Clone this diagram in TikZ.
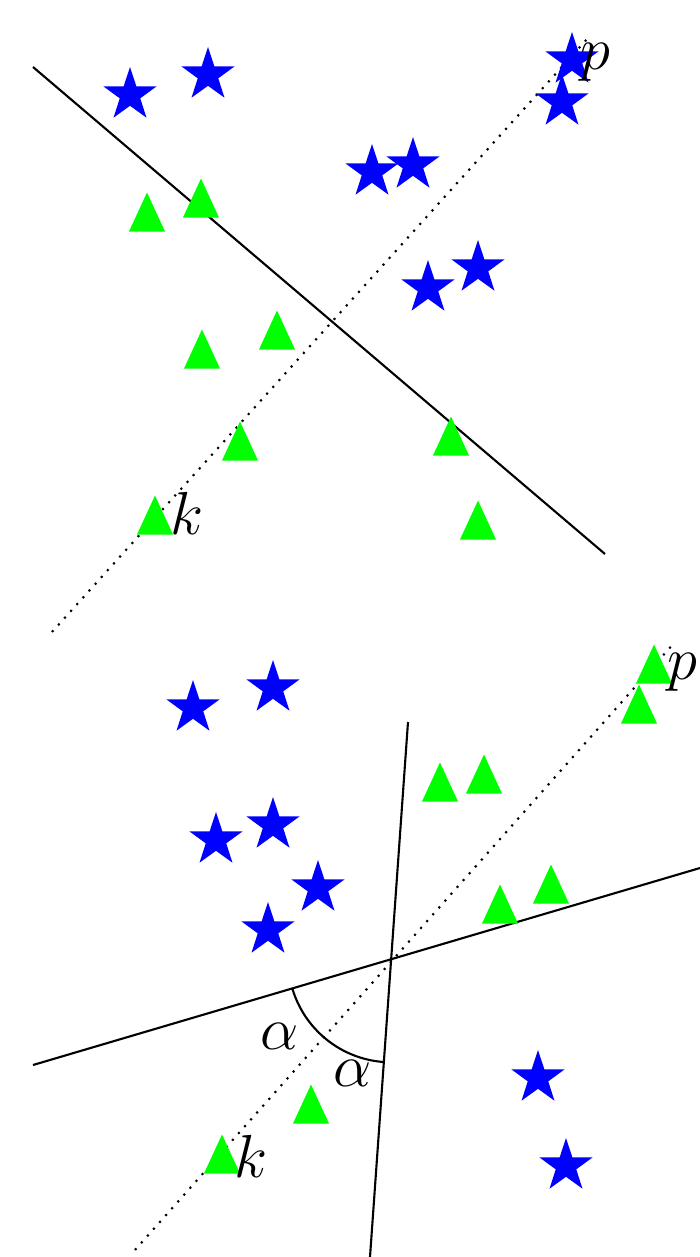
\documentclass[tikz,border=0pt]{standalone}
\usetikzlibrary{shapes.geometric, angles}

\begin{document}
\begin{tikzpicture}[
    x=0.01cm, y=0.01cm,
    star5/.style={
        star,
        star points=5,
        star point ratio=2.6,
        fill=blue,
        inner sep=0pt,
        minimum size=0.56cm
    },
    tri/.style={
        isosceles triangle,
        isosceles triangle stretches,
        shape border rotate=90,
        fill=green,
        inner sep=0pt,
        minimum width=0.36cm,
        minimum height=0.39cm
    },
    lab/.style={
        font=\fontsize{19}{22}\selectfont,
        inner sep=0pt
    },
    sep/.style={
        line width=0.6pt
    },
    proj/.style={
        dotted,
        line width=0.6pt
    }
]
\useasboundingbox (0,0) rectangle (700,-1257);

% upper panel
\coordinate (a1) at (33,-67);
\coordinate (a2) at (605,-554);
\coordinate (pa) at (52,-632);
\coordinate (pb) at (588,-38);

\draw[sep] (a1) -- (a2);
\draw[proj] (pa) -- (pb);

\node[star5] (s1) at (130,-95) {};
\node[star5] (s2) at (208,-75) {};
\node[star5] (s3) at (372,-172) {};
\node[star5] (s4) at (413,-165) {};
\node[star5] (s5) at (428,-288) {};
\node[star5] (s6) at (478,-268) {};
\node[star5] (s7) at (572,-60) {};
\node[star5] (s8) at (562,-102) {};

\node[tri] (t1) at (147,-220) {};
\node[tri] (t2) at (201,-206) {};
\node[tri] (t3) at (202,-357) {};
\node[tri] (t4) at (277,-338) {};
\node[tri] (t5) at (240,-449) {};
\node[tri] (t6) at (451,-444) {};
\node[tri] (t7) at (155,-523) {};
\node[tri] (t8) at (478,-528) {};

\node[lab] (p1) at (595,-62) {$p$};
\node[lab] (k1) at (187,-513) {$k$};

% lower panel
\coordinate (b1) at (33,-1065);
\coordinate (b2) at (700,-868);
\coordinate (c1) at (408,-722);
\coordinate (c2) at (370,-1257);
\coordinate (qa) at (135,-1250);
\coordinate (qb) at (675,-642);
\coordinate (x) at (intersection of b1--b2 and c1--c2);

\draw[sep] (b1) -- (b2);
\draw[sep] (c1) -- (c2);
\draw[proj] (qa) -- (qb);
\pic[draw, line width=0.6pt, angle radius=1.03cm] {angle=b1--x--c2};

\node[star5] (s9) at (193,-708) {};
\node[star5] (s10) at (273,-688) {};
\node[star5] (s11) at (216,-840) {};
\node[star5] (s12) at (273,-825) {};
\node[star5] (s13) at (318,-888) {};
\node[star5] (s14) at (268,-930) {};
\node[star5] (s15) at (538,-1078) {};
\node[star5] (s16) at (566,-1166) {};

\node[tri] (t9) at (654,-672) {};
\node[tri] (t10) at (639,-712) {};
\node[tri] (t11) at (440,-790) {};
\node[tri] (t12) at (484,-782) {};
\node[tri] (t13) at (500,-912) {};
\node[tri] (t14) at (551,-892) {};
\node[tri] (t15) at (311,-1112) {};
\node[tri] (t16) at (222,-1162) {};

\node[lab] (p2) at (682,-672) {$p$};
\node[lab] (k2) at (251,-1156) {$k$};
\node[lab] (al1) at (280,-1036) {$\alpha$};
\node[lab] (al2) at (353,-1073) {$\alpha$};

\end{tikzpicture}
\end{document}
